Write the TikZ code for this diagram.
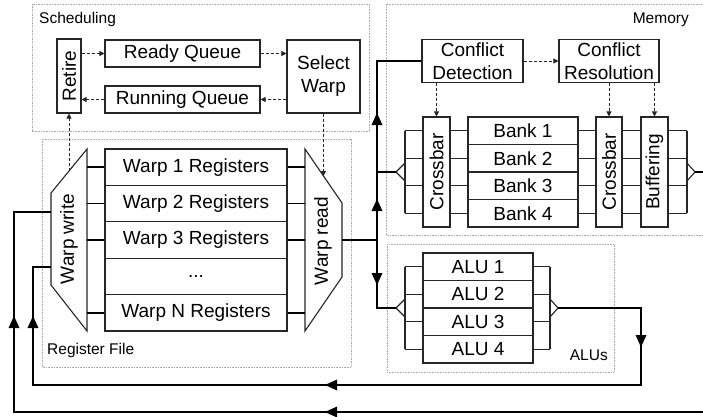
\documentclass[tikz,border=0pt]{standalone}
\usepackage{fontspec}
\usepackage{graphicx}
\setmainfont{Liberation Sans}
\usetikzlibrary{arrows.meta,calc,decorations.markings}
\begin{document}
\begin{tikzpicture}[x=1pt,y=-1pt,
  box/.style={draw=black!85, line width=1.1pt, inner sep=0pt, align=center,
    font=\fontsize{19}{23}\selectfont},
  txt/.style={inner sep=0pt, font=\fontsize{19}{23}\selectfont},
  grp/.style={draw=gray!65, line width=0.7pt, dash pattern=on 0.8pt off 0.8pt},
  lbl/.style={inner sep=0pt, font=\fontsize{15.5}{18}\selectfont},
  ctl/.style={draw=black!85, line width=1pt, dash pattern=on 3pt off 2pt,
    -{Triangle[length=5pt,width=5pt]}},
  tick/.style={draw=black!85, line width=1.1pt},
  rtick/.style={draw=black, line width=1.6pt},
  bus/.style={draw=black, line width=2.4pt},
  midtip/.style={postaction={decorate, decoration={markings,
    mark=at position #1 with {\fill[black] (0pt,0pt) -- (-12pt,5.5pt) -- (-12pt,-5.5pt) -- cycle;}}}},
]
\useasboundingbox (0,0) rectangle (703,416);
\fill[white] (0,0) rectangle (703,416);

% ---------------- Scheduling ----------------
\draw[grp] (32,4) rectangle (369,131);
\node[lbl, anchor=west] (schedlbl) at (39,19) {Scheduling};
\node[box, minimum width=24pt, minimum height=74pt] (retire) at (69,76) {\rotatebox{90}{Retire}};
\node[box, minimum width=155pt, minimum height=27pt] (ready) at (182.5,53.5) {Ready Queue};
\node[box, minimum width=155pt, minimum height=27pt] (running) at (182.5,99.5) {Running Queue};
\node[box, minimum width=73pt, minimum height=73pt] (select) at (323.5,76.5) {Select\\Warp};
\draw[ctl] (retire.east |- ready) -- (ready.west);
\draw[ctl] (ready.east) -- (select.west |- ready);
\draw[ctl] (select.west |- running) -- (running.east);
\draw[ctl] (running.west) -- (retire.east |- running);

% ---------------- Register file ----------------
\draw[grp] (42,139) rectangle (351,367);
\node[lbl, anchor=west] (rflbl) at (47,350) {Register File};
\node[box, minimum width=182pt, minimum height=36.4pt] (w1) at (196,167.2) {Warp 1 Registers};
\node[box, minimum width=182pt, minimum height=36.4pt] (w2) at (196,203.6) {Warp 2 Registers};
\node[box, minimum width=182pt, minimum height=36.4pt] (w3) at (196,240) {Warp 3 Registers};
\node[box, minimum width=182pt, minimum height=36.4pt] (wd) at (196,276.4) {...};
\node[box, minimum width=182pt, minimum height=36.4pt] (wn) at (196,312.8) {Warp N Registers};

% write and read multiplexers
\draw[draw=black!85, line width=1.1pt] (87,149) -- (51,193) -- (51,285) -- (87,331) -- cycle;
\node[txt] (wwtext) at (69,239) {\rotatebox{90}{Warp write}};
\draw[draw=black!85, line width=1.1pt] (305,149) -- (342,203) -- (342,277) -- (305,331) -- cycle;
\node[txt] (wrtext) at (323,241) {\rotatebox{90}{Warp read}};
\coordinate (wwr) at (87,240);
\coordinate (wrl) at (305,240);
\coordinate (wrout) at (342,240);
\coordinate (wwin) at (69,171);
\coordinate (wrin) at (323.5,176);
\coordinate (wwl1) at (51,212);
\coordinate (wwl2) at (51,267);
\foreach \r in {w1,w2,w3,wn}{
  \draw[rtick] (wwr |- \r) -- (\r.west);
  \draw[rtick] (\r.east) -- (wrl |- \r);
}
\draw[ctl] (wwin) -- (retire.south);
\draw[ctl] (select.south) -- (wrin);

% ---------------- Memory ----------------
\draw[grp] (703,4) -- (386,4) -- (386,235) -- (703,235);
\node[lbl, anchor=east] (memlbl) at (689,20) {Memory};
\node[box, minimum width=101pt, minimum height=43pt] (cdet) at (472.5,61) {Conflict\\Detection};
\node[box, minimum width=100pt, minimum height=43pt] (cres) at (609,61) {Conflict\\Resolution};
\draw[ctl] (cdet.east) -- (cres.west);
\node[box, minimum width=27pt, minimum height=110pt] (xb1) at (436.5,172) {\rotatebox{90}{Crossbar}};
\node[box, minimum width=110pt, minimum height=27.5pt] (b1) at (523,130.75) {Bank 1};
\node[box, minimum width=110pt, minimum height=27.5pt] (b2) at (523,158.25) {Bank 2};
\node[box, minimum width=110pt, minimum height=27.5pt] (b3) at (523,185.75) {Bank 3};
\node[box, minimum width=110pt, minimum height=27.5pt] (b4) at (523,213.25) {Bank 4};
\node[box, minimum width=26pt, minimum height=110pt] (xb2) at (609,172) {\rotatebox{90}{Crossbar}};
\node[box, minimum width=27pt, minimum height=110pt] (buf) at (654.5,172) {\rotatebox{90}{Buffering}};
\draw[ctl] (xb1.north |- cdet.south) -- (xb1.north);
\draw[ctl] (xb2.north |- cres.south) -- (xb2.north);
\draw[ctl] (buf.north |- cres.south) -- (buf.north);

\coordinate (minbar) at (405,172);
\coordinate (minpt) at (396,172);
\coordinate (moutbar) at (687,172);
\coordinate (moutpt) at (695,172);
\coordinate (medge) at (703,172);
\foreach \b in {b1,b2,b3,b4}{
  \draw[tick] (minbar |- \b) -- (xb1.west |- \b);
  \draw[tick] (xb1.east |- \b) -- (\b.west);
  \draw[tick] (\b.east) -- (xb2.west |- \b);
  \draw[tick] (xb2.east |- \b) -- (buf.west |- \b);
  \draw[tick] (buf.east |- \b) -- (moutbar |- \b);
}
\draw[tick] (minbar |- b1) -- (minbar |- b4);
\draw[tick] (moutbar |- b1) -- (moutbar |- b4);
\draw[tick] ($(minbar)+(0,-9)$) -- (minpt) -- ($(minbar)+(0,9)$);
\draw[tick] ($(moutbar)+(0,-9)$) -- (moutpt) -- ($(moutbar)+(0,9)$);
\draw[bus] (moutpt) -- (medge);

% ---------------- ALUs ----------------
\draw[grp] (387,244) rectangle (614,372);
\node[lbl, anchor=east] (alulbl) at (608,355) {ALUs};
\node[box, minimum width=110pt, minimum height=27.5pt] (a1) at (478,266.75) {ALU 1};
\node[box, minimum width=110pt, minimum height=27.5pt] (a2) at (478,294.25) {ALU 2};
\node[box, minimum width=110pt, minimum height=27.5pt] (a3) at (478,321.75) {ALU 3};
\node[box, minimum width=110pt, minimum height=27.5pt] (a4) at (478,349.25) {ALU 4};
\coordinate (ainbar) at (405,308);
\coordinate (ainpt) at (396,308);
\coordinate (aoutbar) at (550,308);
\coordinate (aoutpt) at (558,308);
\foreach \a in {a1,a2,a3,a4}{
  \draw[tick] (ainbar |- \a) -- (\a.west);
  \draw[tick] (\a.east) -- (aoutbar |- \a);
}
\draw[tick] (ainbar |- a1) -- (ainbar |- a4);
\draw[tick] (aoutbar |- a1) -- (aoutbar |- a4);
\draw[tick] ($(ainbar)+(0,-9)$) -- (ainpt) -- ($(ainbar)+(0,9)$);
\draw[tick] ($(aoutbar)+(0,-9)$) -- (aoutpt) -- ($(aoutbar)+(0,9)$);

% ---------------- Data buses ----------------
\coordinate (j0) at (377,240);
\coordinate (jm) at (377,172);
\coordinate (ja) at (377,308);
\coordinate (jt) at (j0 |- cdet.west);
\draw[bus, midtip=76pt] (wrout) -- (j0) -- (jm) -- (minpt);
\draw[bus, midtip=59pt] (jm) -- (jt) -- (cdet.west);
\draw[bus, midtip=45pt] (j0) -- (ja) -- (ainpt);

% ALU results written back
\coordinate (c1) at (641,308);
\coordinate (c2) at (641,385);
\coordinate (c3) at (33,385);
\coordinate (c4) at (33,267);
\draw[bus, midtip=122pt, midtip=476pt, midtip=837pt]
  (aoutpt) -- (c1) -- (c2) -- (c3) -- (c4) -- (wwl2);

% memory results written back
\coordinate (redge) at (703,412);
\coordinate (d1) at (14,412);
\coordinate (d2) at (14,212);
\draw[bus, midtip=378pt, midtip=785pt] (redge) -- (d1) -- (d2) -- (wwl1);
\end{tikzpicture}
\end{document}
